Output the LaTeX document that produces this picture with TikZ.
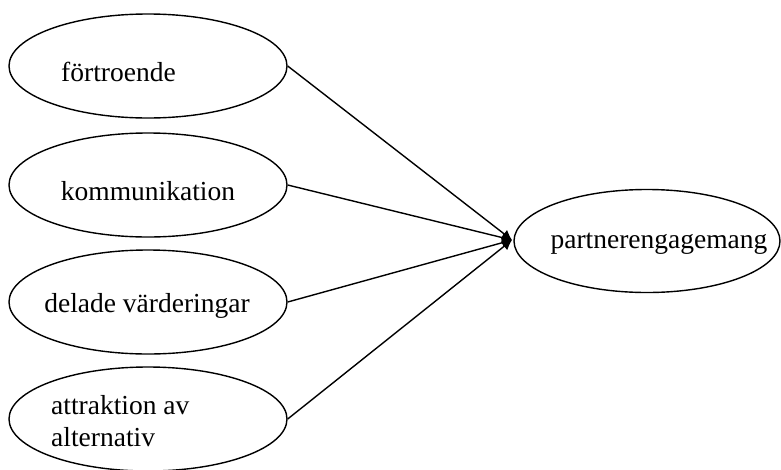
\documentclass[tikz,border=0pt]{standalone}
\usepackage{fontspec}
\setmainfont{Liberation Serif}
\usetikzlibrary{shapes.geometric,arrows.meta}
\begin{document}
\begin{tikzpicture}[x=1pt,y=-1pt,
  oval/.style={draw, ellipse, line width=1.4pt, minimum width=278pt, minimum height=104pt, inner sep=0pt},
  lbl/.style={font=\fontsize{27.5}{32}\selectfont, inner sep=0pt, align=left},
  link/.style={line width=1.4pt, -{Latex[length=10pt,width=10pt]}}]
\useasboundingbox (0,0) rectangle (781,469);
% factor ellipses
\node[oval] (e1) at (148,66) {};
\node[oval] (e2) at (148,185) {};
\node[oval] (e3) at (148,302) {};
\node[oval] (e4) at (148,419) {};
% outcome ellipse
\node[oval, minimum width=266pt, minimum height=103pt] (e5) at (647,241) {};
% labels
\node[lbl, anchor=west] (t1) at (61,72) {förtroende};
\node[lbl] (t2) at (148,191) {kommunikation};
\node[lbl] (t3) at (147,306) {delade värderingar};
\node[lbl, anchor=west] (t4) at (51,421) {attraktion av\\alternativ};
\node[lbl] (t5) at (659,244) {partnerengagemang};
% converging arrows
\coordinate (tip) at (512,240);
\foreach \e in {e1,e2,e3,e4}
  \draw[link] (\e.east) -- (tip);
\end{tikzpicture}
\end{document}
